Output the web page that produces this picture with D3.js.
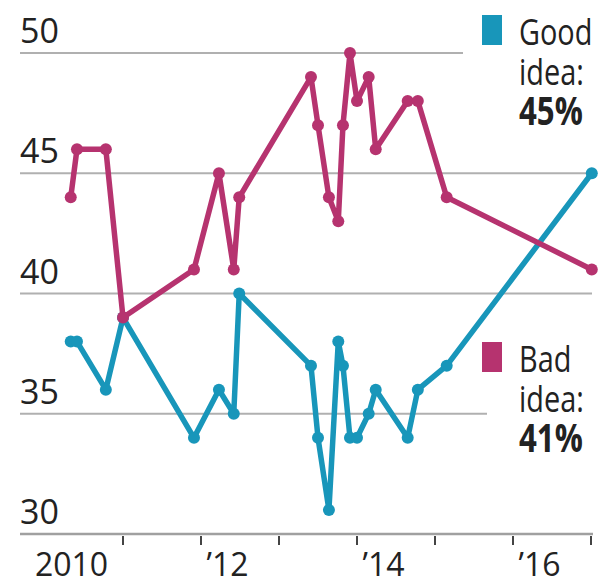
<!DOCTYPE html>
<html>
<head>
<meta charset="utf-8">
<script src="https://cdn.jsdelivr.net/npm/d3@7/dist/d3.min.js"></script>
<style>
  html, body { margin: 0; padding: 0; background: #fff; }
  svg { display: block; }
  text { font-family: "Open Sans", "Noto Sans", sans-serif; fill: #222; }
</style>
</head>
<body>
<svg id="chart" width="601" height="586"></svg>
<script>
// Survey dates (decimal years)
const dates = [2010.33, 2010.41, 2010.78, 2011.00, 2011.91, 2012.23, 2012.42, 2012.49,
               2013.41, 2013.50, 2013.64, 2013.76, 2013.82, 2013.91, 2014.00, 2014.15,
               2014.24, 2014.65, 2014.78, 2015.15, 2017.01];
const goodIdea = [38, 38, 36, 39, 34, 36, 35, 40, 37, 34, 31, 38, 37, 34, 34, 35, 36, 34, 36, 37, 45];
const badIdea  = [44, 46, 46, 39, 41, 45, 41, 44, 49, 47, 44, 43, 47, 50, 48, 49, 46, 48, 48, 44, 41];
const yTicks = [30, 35, 40, 45, 50];
const xTickYears = [2011, 2012, 2013, 2014, 2015, 2016, 2017];
const xLabelYears = [2010, 2012, 2014, 2016];
const xLabels = ["2010", "\u201912", "\u201914", "\u201916"];
const legendGood = ["Good", "idea:", "45%"];
const legendBad = ["Bad", "idea:", "41%"];

const colorGood = "#1896ba";
const colorBad = "#b6336f";

const svg = d3.select("#chart");
const x = d3.scaleLinear().domain([2010, 2017]).range([45, 591]);
const y = d3.scaleLinear().domain([30, 50]).range([534, 53]);

// gridlines (end points vary to leave room for legend)
const gridEnd = {50: 463, 45: 592, 40: 592, 35: 487};
yTicks.filter(v => v !== 30).forEach(v => {
  svg.append("line")
    .attr("x1", 20).attr("x2", gridEnd[v])
    .attr("y1", y(v)).attr("y2", y(v))
    .attr("stroke", "#b0b0b0").attr("stroke-width", 2);
});

// y tick labels
svg.selectAll("text.ylab").data(yTicks).join("text")
  .attr("class", "ylab")
  .attr("x", 20).attr("y", d => y(d) - 10)
  .attr("font-size", 34)
  .text(d => d);

// x axis baseline
svg.append("line")
  .attr("x1", 20).attr("x2", 593)
  .attr("y1", y(30)).attr("y2", y(30))
  .attr("stroke", "#a0a0a0").attr("stroke-width", 2.5);

// x ticks
svg.selectAll("line.xtick").data(xTickYears).join("line")
  .attr("class", "xtick")
  .attr("x1", d => x(d)).attr("x2", d => x(d))
  .attr("y1", y(30) + 2).attr("y2", y(30) + 11)
  .attr("stroke", "#444").attr("stroke-width", 2);

// x labels
svg.selectAll("text.xlab").data(xLabelYears).join("text")
  .attr("class", "xlab")
  .attr("x", d => x(d + 0.34)).attr("y", 576)
  .attr("text-anchor", "middle")
  .attr("font-size", 32)
  .text((d, i) => xLabels[i]);

function drawSeries(values, color) {
  const pts = dates.map((d, i) => [d, values[i]]);
  const line = d3.line().x(d => x(d[0])).y(d => y(d[1]));
  svg.append("path")
    .datum(pts)
    .attr("d", line)
    .attr("fill", "none")
    .attr("stroke", color)
    .attr("stroke-width", 5.5)
    .attr("stroke-linejoin", "round")
    .attr("stroke-linecap", "round");
  svg.append("g").selectAll("circle").data(pts).join("circle")
    .attr("cx", d => x(d[0])).attr("cy", d => y(d[1]))
    .attr("r", 6)
    .attr("fill", color);
}
drawSeries(goodIdea, colorGood);
drawSeries(badIdea, colorBad);

// legends: one multi-line text block each
function legend(top, color, lines) {
  svg.append("rect")
    .attr("x", 482).attr("y", top)
    .attr("width", 20).attr("height", 30)
    .attr("fill", color);
  const txt = svg.append("text")
    .attr("transform", `translate(519,${top + 30}) scale(0.78,1)`)
    .attr("font-size", 37);
  lines.forEach((t, i) => {
    txt.append("tspan")
      .attr("x", 0)
      .attr("y", i * 40)
      .attr("font-size", i === 2 ? 40 : 37)
      .attr("font-weight", i === 2 ? 700 : 400)
      .text(t);
  });
}
legend(15, colorGood, legendGood);
legend(342, colorBad, legendBad);
</script>
</body>
</html>
